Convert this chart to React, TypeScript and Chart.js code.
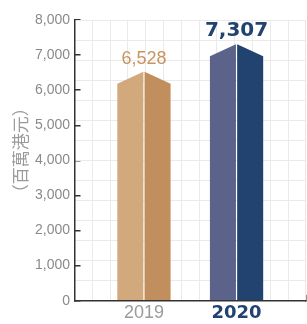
import React, { useEffect, useRef } from 'react';
import { Chart, registerables } from 'chart.js';

Chart.register(...registerables);

// ---- data ----
const years = ['2019', '2020'];
const values = [6528, 7307];
const valueLabels = ['6,528', '7,307'];
const yTitle = '（百萬港元）';
const yMin = 0;
const yMax = 8000;
const yStep = 1000;

// ---- styles ----
const leftColors = ['#D2A87D', '#5B638A'];
const rightColors = ['#C18E5D', '#22426F'];
const labelColors = ['#C8955F', '#22426F'];
const labelFonts = ['normal 18px "Liberation Sans"', 'bold 20px "DejaVu Sans"'];
const roofDrop = 12;

const roofBars = {
  id: 'roofBars',
  afterDatasetsDraw(chart: any) {
    const ctx = chart.ctx;
    const meta = chart.getDatasetMeta(0);
    meta.data.forEach((bar: any, i: number) => {
      const { x, y, width, base } = bar.getProps(['x', 'y', 'width', 'base'], true);
      const l = x - width / 2;
      const r = x + width / 2;
      const g = 0.6;
      ctx.save();
      ctx.fillStyle = leftColors[i];
      ctx.beginPath();
      ctx.moveTo(l, base);
      ctx.lineTo(l, y + roofDrop);
      ctx.lineTo(x - g, y);
      ctx.lineTo(x - g, base);
      ctx.closePath();
      ctx.fill();
      ctx.fillStyle = rightColors[i];
      ctx.beginPath();
      ctx.moveTo(x + g, base);
      ctx.lineTo(x + g, y);
      ctx.lineTo(r, y + roofDrop);
      ctx.lineTo(r, base);
      ctx.closePath();
      ctx.fill();
      ctx.fillStyle = labelColors[i];
      ctx.font = labelFonts[i];
      ctx.textAlign = 'center';
      ctx.textBaseline = 'alphabetic';
      ctx.fillText(valueLabels[i], x, y - 8);
      ctx.restore();
    });
  },
};

const yTitlePlugin = {
  id: 'yTitlePlugin',
  afterDraw(chart: any) {
    const s = chart.scales.y;
    const ctx = chart.ctx;
    ctx.save();
    ctx.translate(s.left + 21, (s.top + s.bottom) / 2 - 10);
    ctx.rotate(-Math.PI / 2);
    ctx.fillStyle = '#9A9A9A';
    ctx.font = '17px "Noto Sans CJK TC"';
    ctx.textAlign = 'center';
    ctx.textBaseline = 'middle';
    ctx.fillText(yTitle, 0, 0);
    ctx.restore();
  },
};

export default function App() {
  const ref = useRef<HTMLCanvasElement | null>(null);
  useEffect(() => {
    document.body.style.margin = '0';
    const chart = new Chart(ref.current as HTMLCanvasElement, {
      type: 'bar',
      data: {
        datasets: [
          {
            data: values.map((v, i) => ({ x: i, y: v })),
            backgroundColor: 'transparent',
            barPercentage: 0.767,
            categoryPercentage: 1,
          },
        ],
      },
      options: {
        animation: false,
        responsive: true,
        maintainAspectRatio: false,
        layout: { padding: { top: 20, right: 1, left: 0, bottom: 0 } },
        plugins: { legend: { display: false }, tooltip: { enabled: false } },
        scales: {
          x: {
            type: 'linear',
            min: -0.75,
            max: 1.75,
            offset: false,
            afterBuildTicks: (scale: any) => {
              scale.ticks = [-0.75, 0, 1, 1.75].map((v) => ({ value: v }));
            },
            afterFit: (scale: any) => {
              scale.height = 23.3;
              scale.paddingLeft = 0;
              scale.paddingRight = 0;
            },
            ticks: {
              autoSkip: false,
              maxRotation: 0,
              padding: 8,
              callback: (v: any) => years[v] ?? '',
              color: (c: any) => (c.tick && c.tick.value === 1 ? '#22426F' : '#9A9A9A'),
              font: (c: any) =>
                c.tick && c.tick.value === 1
                  ? { family: 'DejaVu Sans', size: 18, weight: 'bold' }
                  : { family: 'Liberation Sans', size: 18, weight: 'normal' },
            },
            grid: {
              offset: false,
              drawOnChartArea: false,
              tickLength: -6,
              color: (c: any) => (c.tick && c.tick.value === 1.75 ? '#333' : 'rgba(0,0,0,0)'),
              lineWidth: 1.5,
            },
            border: { display: true, color: '#333', width: 1.5 },
          },
          gx: {
            type: 'linear',
            position: 'top',
            min: 0,
            max: 12,
            afterFit: (scale: any) => {
              scale.height = 0;
              scale.paddingLeft = 0;
              scale.paddingRight = 0;
            },
            ticks: { display: false, stepSize: 1 },
            grid: { color: '#EAEAEA', drawTicks: false },
            border: { display: false },
          },
          y: {
            min: yMin,
            max: yMax,
            afterFit: (scale: any) => {
              scale.width = 74.5;
            },
            ticks: {
              stepSize: yStep,
              padding: 10.5,
              color: '#8A8A8A',
              font: { family: 'Liberation Sans', size: 14 },
              callback: (v: any) => Number(v).toLocaleString('en-US'),
            },
            grid: { drawOnChartArea: false, tickLength: -6, color: '#333', lineWidth: 1.5 },
            border: { display: true, color: '#333', width: 1.5 },
            title: { display: false, text: yTitle },
          },
          gy: {
            type: 'linear',
            position: 'right',
            min: 0,
            max: 14,
            afterFit: (scale: any) => {
              scale.width = 0;
            },
            ticks: { display: false, stepSize: 1 },
            grid: { color: '#EAEAEA', drawTicks: false },
            border: { display: false },
          },
        },
      } as any,
      plugins: [roofBars, yTitlePlugin],
    });
    return () => chart.destroy();
  }, []);
  return (
    <div style={{ width: 307, height: 324, position: 'relative' }}>
      <canvas ref={ref} />
    </div>
  );
}
